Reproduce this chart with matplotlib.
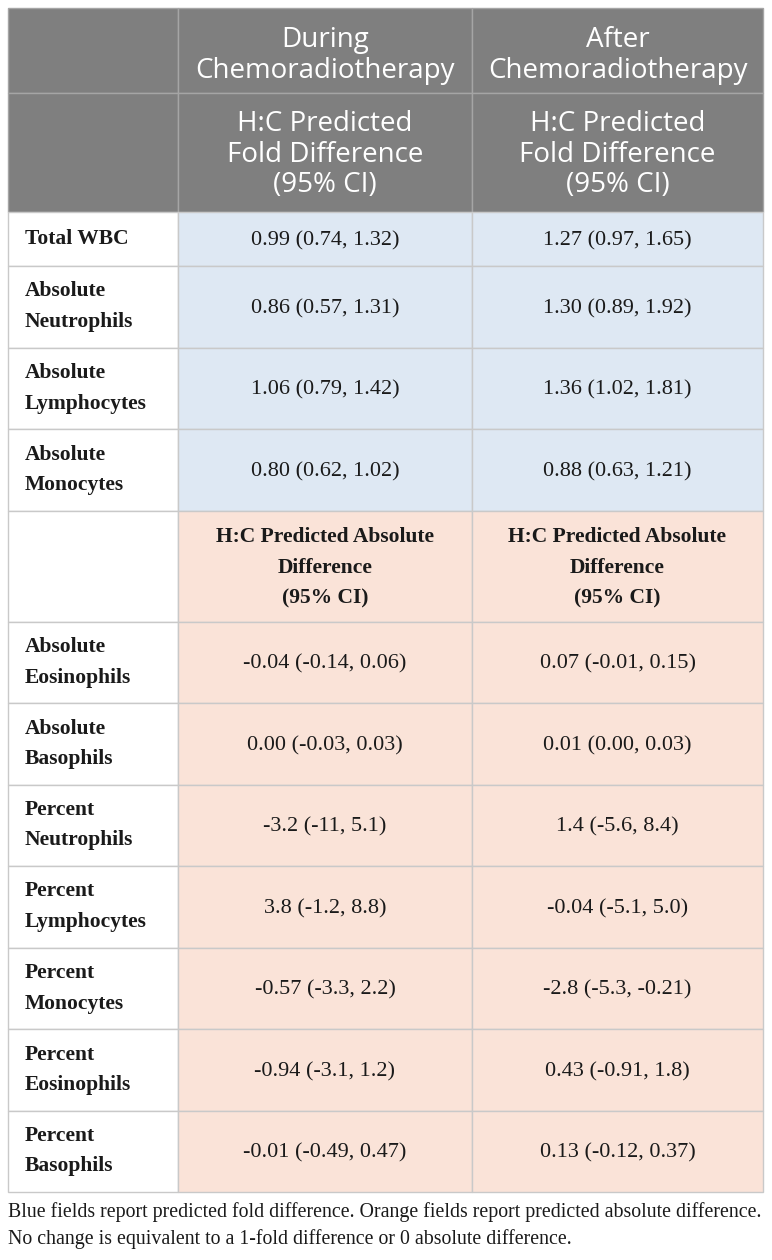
import matplotlib.pyplot as plt
from matplotlib.patches import Rectangle

# table content
col_headers = ["During\nChemoradiotherapy", "After\nChemoradiotherapy"]
fold_header = "H:C Predicted\nFold Difference\n(95% CI)"
abs_header = "H:C Predicted Absolute\nDifference\n(95% CI)"

fold_rows = ["Total WBC", "Absolute\nNeutrophils", "Absolute\nLymphocytes", "Absolute\nMonocytes"]
fold_during = ["0.99 (0.74, 1.32)", "0.86 (0.57, 1.31)", "1.06 (0.79, 1.42)", "0.80 (0.62, 1.02)"]
fold_after = ["1.27 (0.97, 1.65)", "1.30 (0.89, 1.92)", "1.36 (1.02, 1.81)", "0.88 (0.63, 1.21)"]

abs_rows = ["Absolute\nEosinophils", "Absolute\nBasophils", "Percent\nNeutrophils", "Percent\nLymphocytes",
            "Percent\nMonocytes", "Percent\nEosinophils", "Percent\nBasophils"]
abs_during = ["-0.04 (-0.14, 0.06)", "0.00 (-0.03, 0.03)", "-3.2 (-11, 5.1)", "3.8 (-1.2, 8.8)",
              "-0.57 (-3.3, 2.2)", "-0.94 (-3.1, 1.2)", "-0.01 (-0.49, 0.47)"]
abs_after = ["0.07 (-0.01, 0.15)", "0.01 (0.00, 0.03)", "1.4 (-5.6, 8.4)", "-0.04 (-5.1, 5.0)",
             "-2.8 (-5.3, -0.21)", "0.43 (-0.91, 1.8)", "0.13 (-0.12, 0.37)"]

footnote = ["Blue fields report predicted fold difference. Orange fields report predicted absolute difference.",
            "No change is equivalent to a 1-fold difference or 0 absolute difference."]

# layout in pixels
W, H = 772, 1260
xs = [8, 178, 472, 763]
head_h = [85, 119]
head_shift = [5, 2]
row_h_first = 54
row_h = 81.5
abs_head_h = 111

GRAY = "#7f7f7f"
BLUE = "#dee8f3"
ORANGE = "#fae3d8"
LINE = "#c9c9c9"
SANS = "Open Sans"
SERIF = "Liberation Serif"
INK = "#1a1a1a"

fig = plt.figure(figsize=(W / 100, H / 100), dpi=100)
ax = fig.add_axes([0, 0, 1, 1])
ax.set_xlim(0, W)
ax.set_ylim(H, 0)
ax.axis("off")


def cell(x0, x1, y0, y1, color, edge=LINE):
    ax.add_patch(Rectangle((x0, y0), x1 - x0, y1 - y0, facecolor=color,
                           edgecolor=edge, linewidth=1.0))


y = 8
# header rows
for hh, dy, texts in zip(head_h, head_shift, [col_headers, [fold_header, fold_header]]):
    cell(xs[0], xs[1], y, y + hh, GRAY, edge="#a5a5a5")
    for j in range(2):
        cell(xs[j + 1], xs[j + 2], y, y + hh, GRAY, edge="#a5a5a5")
        ax.text((xs[j + 1] + xs[j + 2]) / 2, y + hh / 2 + dy, texts[j], ha="center", va="center",
                color="white", fontsize=20, family=SANS, linespacing=1.12)
    y += hh


def body_row(label, v1, v2, h, color):
    global y
    cell(xs[0], xs[1], y, y + h, "white")
    cell(xs[1], xs[2], y, y + h, color)
    cell(xs[2], xs[3], y, y + h, color)
    ax.text(25, y + h / 2, label, ha="left", va="center", fontsize=15.5, family=SERIF,
            fontweight="bold", color=INK, linespacing=1.7)
    for j, v in enumerate([v1, v2]):
        ax.text((xs[j + 1] + xs[j + 2]) / 2, y + h / 2 + 2, v, ha="center", va="center",
                fontsize=16, family=SERIF, color=INK)
    y += h


for i, (lab, a, b) in enumerate(zip(fold_rows, fold_during, fold_after)):
    body_row(lab, a, b, row_h_first if i == 0 else row_h, BLUE)

# absolute-difference header row
cell(xs[0], xs[1], y, y + abs_head_h, "white")
for j in range(2):
    cell(xs[j + 1], xs[j + 2], y, y + abs_head_h, ORANGE)
    ax.text((xs[j + 1] + xs[j + 2]) / 2, y + abs_head_h / 2 + 2, abs_header, ha="center", va="center",
            fontsize=15.5, family=SERIF, fontweight="bold", color=INK, linespacing=1.7)
y += abs_head_h

for lab, a, b in zip(abs_rows, abs_during, abs_after):
    body_row(lab, a, b, row_h, ORANGE)

for k, line in enumerate(footnote):
    ax.text(8, y + 20 + 27 * k, line, ha="left", va="center", fontsize=14.3, family=SERIF, color=INK)

fig.savefig("out.png", dpi=100)
